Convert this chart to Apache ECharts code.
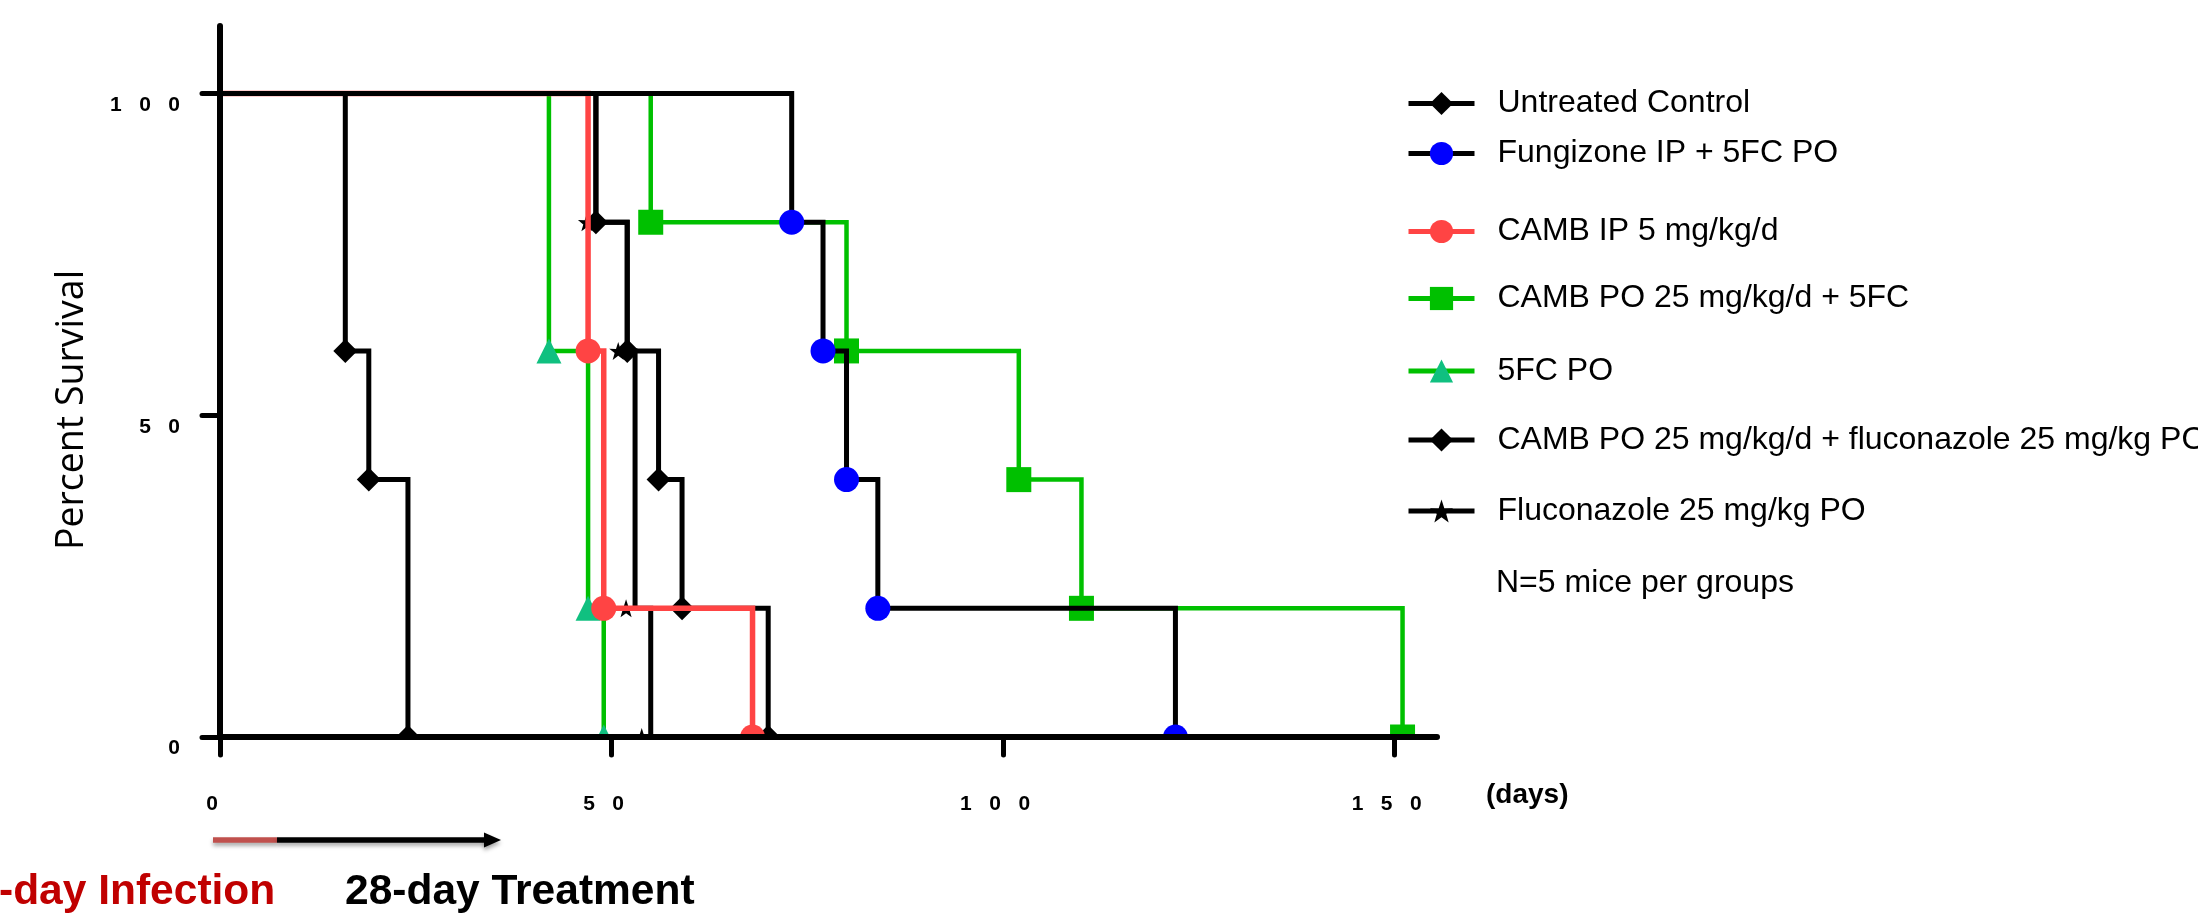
<!DOCTYPE html>
<html>
<head>
<meta charset="utf-8">
<script src="https://cdn.jsdelivr.net/npm/echarts@6/dist/echarts.min.js"></script>
<style>html,body{margin:0;padding:0;background:#fff;}#c{width:2198px;height:915px;}</style>
</head>
<body>
<div id="c"></div>
<script>
// ---- data: [day, percent survival] (Kaplan-Meier steps) ----
const seriesNames = [
  'Untreated Control',
  'Fungizone IP + 5FC PO',
  'CAMB IP 5 mg/kg/d',
  'CAMB PO 25 mg/kg/d + 5FC',
  '5FC PO',
  'CAMB PO 25 mg/kg/d + fluconazole 25 mg/kg PO',
  'Fluconazole 25 mg/kg PO'
];
const untreated  = [[0,100],[16,60],[19,40],[24,0]];
const fungizone  = [[0,100],[73,80],[77,60],[80,40],[84,20],[122,0]];
const cambIP     = [[0,100],[47,60],[49,20],[68,0]];
const cambPO5FC  = [[0,100],[55,80],[80,60],[102,40],[110,20],[151,0]];
const fc5        = [[0,100],[42,60],[47,20],[49,0]];
const cambPOflu  = [[0,100],[48,80],[52,60],[56,40],[59,20],[70,0]];
const flu        = [[0,100],[48,80],[52,60],[53,20],[55,0]];
const xTicks = [0, 50, 100, 150];
const yTicks = [0, 50, 100];
const note = 'N=5 mice per groups';

// ---- layout / style ----
const STAR = 'path://M50,0 L61.8,35.3 L97.6,34.5 L69.1,56.2 L79.4,90.5 L50,70 L20.6,90.5 L30.9,56.2 L2.4,34.5 L38.2,35.3 Z';
const legendCenters = [103.5, 153.5, 231.5, 298.5, 371, 440, 511];
const spaced = v => String(v).split('').join('   ');

function km(name, pts, lineColor, symColor, symbol, size, width, z, extra) {
  return Object.assign({
    name: name,
    type: 'line',
    step: 'end',
    z: z,
    data: pts.map((p, i) => i === 0 ? { value: p, symbol: 'none' } : p),
    symbol: symbol,
    symbolSize: size,
    showAllSymbol: true,
    lineStyle: { color: lineColor, width: width, cap: 'butt', join: 'miter' },
    itemStyle: { color: symColor, opacity: 1 },
    emphasis: { disabled: true },
    clip: false
  }, extra || {});
}

const chart = echarts.init(document.getElementById('c'), null, { renderer: 'canvas' });

const legends = seriesNames.map((n, i) => ({
  data: [n],
  left: 1406,
  top: legendCenters[i] - 16,
  padding: 0,
  itemWidth: 66,
  itemHeight: 29,
  selectedMode: false,
  lineStyle: { width: 5 },
  textStyle: { fontFamily: 'Liberation Sans', fontSize: 32, color: '#000', padding: [0, 0, 0, 18] }
}));

const axisLabelCommon = {
  fontFamily: 'Liberation Sans', fontWeight: 'bold', fontSize: 21, color: '#000'
};

chart.setOption({
  animation: false,
  backgroundColor: '#fff',
  grid: { left: 220, right: 761, top: 26, bottom: 178, containLabel: false },
  legend: legends,
  xAxis: {
    type: 'value', min: 0, max: 155.4, z: 10,
    axisLine: { show: true, onZero: true, lineStyle: { color: '#000', width: 6, cap: 'round' } },
    axisTick: { show: true, length: 18, customValues: xTicks, lineStyle: { color: '#000', width: 5, cap: 'round' } },
    axisLabel: Object.assign({ customValues: xTicks, margin: 57, padding: [0, 16, 0, 0], formatter: v => spaced(v) }, axisLabelCommon),
    splitLine: { show: false }
  },
  yAxis: {
    type: 'value', min: 0, max: 110.5, z: 10,
    axisLine: { show: true, lineStyle: { color: '#000', width: 6, cap: 'round' } },
    axisTick: { show: true, length: 18, customValues: yTicks, lineStyle: { color: '#000', width: 5, cap: 'round' } },
    axisLabel: Object.assign({ customValues: yTicks, margin: 40, verticalAlign: 'top', padding: [1, 0, 0, 0], formatter: v => spaced(v) }, axisLabelCommon),
    splitLine: { show: false }
  },
  series: [
    km(seriesNames[0], untreated, '#000000', '#000000', 'diamond', 24, 5, 6),
    km(seriesNames[1], fungizone, '#000000', '#0000ff', 'circle', 25, 5, 7),
    km(seriesNames[2], cambIP, '#ff4444', '#ff4444', 'circle', 25, 5.5, 5),
    km(seriesNames[3], cambPO5FC, '#00c000', '#00c000', 'rect', 25, 4.5, 2),
    km(seriesNames[4], fc5, '#00c000', '#10c080', 'triangle', 25, 4.5, 2),
    km(seriesNames[5], cambPOflu, '#000000', '#000000', 'diamond', 24, 5, 4),
    km(seriesNames[6], flu, '#000000', '#000000', STAR, 18, 5, 3, { symbolOffset: [-9, 0] })
  ],
  graphic: [
    // white band under the x axis hides the lower halves of markers sitting at 0%
    { type: 'rect', z: 9, silent: true, shape: { x: 224, y: 740, width: 1230, height: 26 }, style: { fill: '#fff' } },
    { type: 'text', z: 11, x: 72, y: 410, rotation: Math.PI / 2,
      style: { text: 'Percent Survival', fontFamily: 'Open Sans', fontSize: 37.5, fill: '#000', align: 'center', verticalAlign: 'middle' } },
    { type: 'text', z: 11, x: 1486, y: 795,
      style: { text: '(days)', fontFamily: 'Liberation Sans', fontWeight: 'bold', fontSize: 28, fill: '#000', align: 'left', verticalAlign: 'middle' } },
    { type: 'text', z: 11, x: 1496, y: 583,
      style: { text: note, fontFamily: 'Liberation Sans', fontSize: 32, fill: '#000', align: 'left', verticalAlign: 'middle' } },
    { type: 'text', z: 11, x: -1, y: 892,
      style: { text: '-day Infection', fontFamily: 'Liberation Sans', fontWeight: 'bold', fontSize: 42.5, fill: '#c00000', align: 'left', verticalAlign: 'middle' } },
    { type: 'text', z: 11, x: 345, y: 892,
      style: { text: '28-day Treatment', fontFamily: 'Liberation Sans', fontWeight: 'bold', fontSize: 42.5, fill: '#000', align: 'left', verticalAlign: 'middle' } },
    { type: 'line', z: 11, shape: { x1: 213, y1: 840, x2: 277, y2: 840 },
      style: { stroke: '#c0504d', lineWidth: 5.5, shadowBlur: 4, shadowColor: 'rgba(0,0,0,0.35)', shadowOffsetY: 3 } },
    { type: 'line', z: 11, shape: { x1: 277, y1: 840, x2: 487, y2: 840 },
      style: { stroke: '#000', lineWidth: 5.5, shadowBlur: 4, shadowColor: 'rgba(0,0,0,0.35)', shadowOffsetY: 3 } },
    { type: 'polygon', z: 11, shape: { points: [[484, 832.5], [501, 840], [484, 847.5]] },
      style: { fill: '#000', shadowBlur: 4, shadowColor: 'rgba(0,0,0,0.35)', shadowOffsetY: 3 } }
  ]
});
</script>
</body>
</html>
